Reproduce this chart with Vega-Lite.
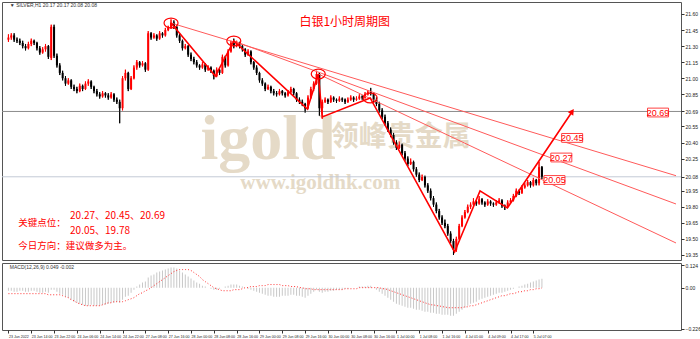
{
"$schema":"https://vega.github.io/schema/vega-lite/v6.json",
"background":"white",
"padding":{"left":1,"top":1,"right":0,"bottom":0},
"spacing":1,
"config":{"view":{"stroke":"#555","strokeWidth":1},"axis":{"labelFont":"Liberation Sans","labelColor":"#222","tickColor":"#333","domain":false,"grid":false,"labelOverlap":false,"labelSeparation":0}},
"datasets":{"bars":[
{"i":0,"o":21.36,"h":21.41,"l":21.34,"c":21.38,"m":-0.017,"s":-0.033},
{"i":1,"o":21.38,"h":21.42,"l":21.36,"c":21.40,"m":-0.017,"s":-0.033},
{"i":2,"o":21.40,"h":21.42,"l":21.34,"c":21.36,"m":-0.022,"s":-0.033},
{"i":3,"o":21.36,"h":21.38,"l":21.33,"c":21.35,"m":-0.022,"s":-0.033},
{"i":4,"o":21.35,"h":21.37,"l":21.31,"c":21.33,"m":-0.017,"s":-0.033},
{"i":5,"o":21.33,"h":21.35,"l":21.28,"c":21.30,"m":-0.017,"s":-0.033},
{"i":6,"o":21.30,"h":21.32,"l":21.26,"c":21.28,"m":-0.022,"s":-0.033},
{"i":7,"o":21.28,"h":21.34,"l":21.27,"c":21.32,"m":-0.022,"s":-0.033},
{"i":8,"o":21.32,"h":21.37,"l":21.30,"c":21.35,"m":-0.017,"s":-0.033},
{"i":9,"o":21.35,"h":21.36,"l":21.31,"c":21.33,"m":-0.017,"s":-0.033},
{"i":10,"o":21.33,"h":21.34,"l":21.26,"c":21.28,"m":-0.022,"s":-0.033},
{"i":11,"o":21.28,"h":21.30,"l":21.22,"c":21.24,"m":-0.028,"s":-0.033},
{"i":12,"o":21.24,"h":21.29,"l":21.23,"c":21.27,"m":-0.028,"s":-0.033},
{"i":13,"o":21.27,"h":21.32,"l":21.25,"c":21.30,"m":-0.022,"s":-0.033},
{"i":14,"o":21.30,"h":21.31,"l":21.18,"c":21.20,"m":-0.028,"s":-0.039},
{"i":15,"o":21.19,"h":21.50,"l":21.17,"c":21.48,"m":-0.011,"s":-0.039},
{"i":16,"o":21.48,"h":21.50,"l":21.19,"c":21.21,"m":-0.011,"s":-0.039},
{"i":17,"o":21.21,"h":21.23,"l":21.10,"c":21.12,"m":-0.022,"s":-0.039},
{"i":18,"o":21.12,"h":21.14,"l":21.03,"c":21.05,"m":-0.033,"s":-0.039},
{"i":19,"o":21.05,"h":21.07,"l":20.98,"c":21.00,"m":-0.039,"s":-0.044},
{"i":20,"o":21.00,"h":21.02,"l":20.93,"c":20.95,"m":-0.050,"s":-0.050},
{"i":21,"o":20.95,"h":21.00,"l":20.94,"c":20.98,"m":-0.055,"s":-0.055},
{"i":22,"o":20.98,"h":20.99,"l":20.90,"c":20.92,"m":-0.066,"s":-0.066},
{"i":23,"o":20.92,"h":20.94,"l":20.88,"c":20.90,"m":-0.077,"s":-0.072},
{"i":24,"o":20.90,"h":20.92,"l":20.86,"c":20.88,"m":-0.083,"s":-0.083},
{"i":25,"o":20.88,"h":20.95,"l":20.87,"c":20.93,"m":-0.088,"s":-0.088},
{"i":26,"o":20.93,"h":20.94,"l":20.88,"c":20.90,"m":-0.094,"s":-0.094},
{"i":27,"o":20.90,"h":20.97,"l":20.89,"c":20.95,"m":-0.099,"s":-0.099},
{"i":28,"o":20.95,"h":20.99,"l":20.93,"c":20.97,"m":-0.099,"s":-0.099},
{"i":29,"o":20.97,"h":20.98,"l":20.90,"c":20.92,"m":-0.094,"s":-0.099},
{"i":30,"o":20.92,"h":20.93,"l":20.86,"c":20.88,"m":-0.099,"s":-0.099},
{"i":31,"o":20.88,"h":20.90,"l":20.83,"c":20.85,"m":-0.099,"s":-0.099},
{"i":32,"o":20.85,"h":20.87,"l":20.81,"c":20.83,"m":-0.099,"s":-0.099},
{"i":33,"o":20.83,"h":20.88,"l":20.82,"c":20.86,"m":-0.094,"s":-0.094},
{"i":34,"o":20.86,"h":20.87,"l":20.82,"c":20.84,"m":-0.094,"s":-0.088},
{"i":35,"o":20.84,"h":20.86,"l":20.80,"c":20.82,"m":-0.088,"s":-0.083},
{"i":36,"o":20.82,"h":20.87,"l":20.81,"c":20.85,"m":-0.083,"s":-0.083},
{"i":37,"o":20.85,"h":20.86,"l":20.78,"c":20.80,"m":-0.083,"s":-0.077},
{"i":38,"o":20.80,"h":20.82,"l":20.76,"c":20.78,"m":-0.077,"s":-0.077},
{"i":39,"o":20.78,"h":20.80,"l":20.58,"c":20.72,"m":-0.083,"s":-0.077},
{"i":40,"o":20.72,"h":21.02,"l":20.70,"c":21.00,"m":-0.066,"s":-0.077},
{"i":41,"o":21.00,"h":21.08,"l":20.98,"c":21.05,"m":-0.050,"s":-0.072},
{"i":42,"o":21.05,"h":21.06,"l":20.88,"c":20.90,"m":-0.044,"s":-0.066},
{"i":43,"o":20.90,"h":21.02,"l":20.89,"c":21.00,"m":-0.028,"s":-0.061},
{"i":44,"o":21.00,"h":21.12,"l":20.99,"c":21.10,"m":-0.011,"s":-0.055},
{"i":45,"o":21.10,"h":21.17,"l":21.08,"c":21.15,"m":0.006,"s":-0.044},
{"i":46,"o":21.15,"h":21.16,"l":21.10,"c":21.12,"m":0.017,"s":-0.033},
{"i":47,"o":21.12,"h":21.16,"l":21.11,"c":21.14,"m":0.028,"s":-0.028},
{"i":48,"o":21.14,"h":21.15,"l":21.06,"c":21.08,"m":0.033,"s":-0.017},
{"i":49,"o":21.08,"h":21.44,"l":21.07,"c":21.42,"m":0.055,"s":-0.011},
{"i":50,"o":21.42,"h":21.43,"l":21.36,"c":21.38,"m":0.066,"s":0},
{"i":51,"o":21.38,"h":21.42,"l":21.37,"c":21.40,"m":0.072,"s":0.011},
{"i":52,"o":21.40,"h":21.41,"l":21.35,"c":21.37,"m":0.083,"s":0.022},
{"i":53,"o":21.37,"h":21.44,"l":21.36,"c":21.42,"m":0.088,"s":0.033},
{"i":54,"o":21.42,"h":21.43,"l":21.38,"c":21.40,"m":0.094,"s":0.044},
{"i":55,"o":21.40,"h":21.47,"l":21.39,"c":21.45,"m":0.099,"s":0.055},
{"i":56,"o":21.45,"h":21.49,"l":21.44,"c":21.47,"m":0.105,"s":0.066},
{"i":57,"o":21.47,"h":21.55,"l":21.46,"c":21.52,"m":0.110,"s":0.077},
{"i":58,"o":21.52,"h":21.54,"l":21.46,"c":21.48,"m":0.110,"s":0.088},
{"i":59,"o":21.48,"h":21.49,"l":21.38,"c":21.40,"m":0.105,"s":0.094},
{"i":60,"o":21.40,"h":21.42,"l":21.33,"c":21.35,"m":0.094,"s":0.099},
{"i":61,"o":21.35,"h":21.36,"l":21.26,"c":21.28,"m":0.083,"s":0.099},
{"i":62,"o":21.28,"h":21.32,"l":21.27,"c":21.30,"m":0.072,"s":0.099},
{"i":63,"o":21.30,"h":21.31,"l":21.20,"c":21.22,"m":0.061,"s":0.099},
{"i":64,"o":21.22,"h":21.24,"l":21.16,"c":21.18,"m":0.050,"s":0.094},
{"i":65,"o":21.18,"h":21.20,"l":21.13,"c":21.15,"m":0.039,"s":0.083},
{"i":66,"o":21.15,"h":21.17,"l":21.10,"c":21.12,"m":0.028,"s":0.072},
{"i":67,"o":21.12,"h":21.13,"l":21.08,"c":21.10,"m":0.022,"s":0.061},
{"i":68,"o":21.10,"h":21.15,"l":21.09,"c":21.13,"m":0.011,"s":0.044},
{"i":69,"o":21.13,"h":21.14,"l":21.06,"c":21.08,"m":0.006,"s":0.033},
{"i":70,"o":21.08,"h":21.12,"l":21.07,"c":21.10,"m":0,"s":0.022},
{"i":71,"o":21.10,"h":21.11,"l":21.05,"c":21.07,"m":-0.006,"s":0.011},
{"i":72,"o":21.07,"h":21.08,"l":20.99,"c":21.02,"m":-0.011,"s":0},
{"i":73,"o":21.02,"h":21.10,"l":21.01,"c":21.08,"m":-0.011,"s":-0.006},
{"i":74,"o":21.08,"h":21.09,"l":21.03,"c":21.05,"m":-0.006,"s":-0.011},
{"i":75,"o":21.05,"h":21.22,"l":21.04,"c":21.20,"m":0,"s":-0.017},
{"i":76,"o":21.20,"h":21.21,"l":21.10,"c":21.12,"m":0.006,"s":-0.017},
{"i":77,"o":21.12,"h":21.27,"l":21.11,"c":21.25,"m":0.011,"s":-0.017},
{"i":78,"o":21.25,"h":21.35,"l":21.24,"c":21.33,"m":0.017,"s":-0.017},
{"i":79,"o":21.33,"h":21.37,"l":21.28,"c":21.30,"m":0.017,"s":-0.011},
{"i":80,"o":21.30,"h":21.35,"l":21.29,"c":21.33,"m":0.017,"s":-0.011},
{"i":81,"o":21.33,"h":21.34,"l":21.28,"c":21.30,"m":0.011,"s":-0.011},
{"i":82,"o":21.30,"h":21.31,"l":21.25,"c":21.27,"m":0.006,"s":-0.006},
{"i":83,"o":21.27,"h":21.28,"l":21.20,"c":21.22,"m":0,"s":0},
{"i":84,"o":21.22,"h":21.27,"l":21.21,"c":21.25,"m":-0.006,"s":0},
{"i":85,"o":21.25,"h":21.26,"l":21.13,"c":21.15,"m":-0.011,"s":0.006},
{"i":86,"o":21.15,"h":21.16,"l":21.08,"c":21.10,"m":-0.017,"s":0.006},
{"i":87,"o":21.10,"h":21.12,"l":21.03,"c":21.05,"m":-0.022,"s":0.006},
{"i":88,"o":21.05,"h":21.06,"l":20.96,"c":20.98,"m":-0.028,"s":0.011},
{"i":89,"o":20.98,"h":21.00,"l":20.93,"c":20.95,"m":-0.033,"s":0.011},
{"i":90,"o":20.95,"h":20.96,"l":20.88,"c":20.90,"m":-0.039,"s":0.011},
{"i":91,"o":20.90,"h":20.94,"l":20.89,"c":20.92,"m":-0.044,"s":0.017},
{"i":92,"o":20.92,"h":20.93,"l":20.86,"c":20.88,"m":-0.044,"s":0.017},
{"i":93,"o":20.88,"h":20.90,"l":20.84,"c":20.86,"m":-0.050,"s":0.017},
{"i":94,"o":20.86,"h":20.88,"l":20.83,"c":20.85,"m":-0.050,"s":0.017},
{"i":95,"o":20.85,"h":20.90,"l":20.84,"c":20.88,"m":-0.050,"s":0.017},
{"i":96,"o":20.88,"h":20.89,"l":20.84,"c":20.86,"m":-0.044,"s":0.011},
{"i":97,"o":20.86,"h":20.87,"l":20.82,"c":20.84,"m":-0.044,"s":0.011},
{"i":98,"o":20.84,"h":20.89,"l":20.83,"c":20.87,"m":-0.044,"s":0.011},
{"i":99,"o":20.87,"h":20.92,"l":20.86,"c":20.90,"m":-0.039,"s":0.006},
{"i":100,"o":20.90,"h":20.91,"l":20.84,"c":20.86,"m":-0.039,"s":0.006},
{"i":101,"o":20.86,"h":20.87,"l":20.78,"c":20.80,"m":-0.044,"s":0.006},
{"i":102,"o":20.80,"h":20.82,"l":20.76,"c":20.78,"m":-0.044,"s":0},
{"i":103,"o":20.78,"h":20.80,"l":20.74,"c":20.76,"m":-0.050,"s":0},
{"i":104,"o":20.76,"h":20.77,"l":20.68,"c":20.72,"m":-0.055,"s":-0.006},
{"i":105,"o":20.72,"h":20.84,"l":20.71,"c":20.82,"m":-0.044,"s":-0.006},
{"i":106,"o":20.82,"h":20.92,"l":20.81,"c":20.90,"m":-0.033,"s":-0.006},
{"i":107,"o":20.90,"h":20.97,"l":20.88,"c":20.95,"m":-0.022,"s":-0.011},
{"i":108,"o":20.95,"h":21.07,"l":20.94,"c":21.04,"m":-0.011,"s":-0.011},
{"i":109,"o":21.04,"h":21.05,"l":20.65,"c":20.72,"m":-0.022,"s":-0.011},
{"i":110,"o":20.72,"h":20.80,"l":20.62,"c":20.78,"m":-0.028,"s":-0.011},
{"i":111,"o":20.78,"h":20.82,"l":20.77,"c":20.80,"m":-0.022,"s":-0.011},
{"i":112,"o":20.80,"h":20.81,"l":20.76,"c":20.78,"m":-0.022,"s":-0.011},
{"i":113,"o":20.78,"h":20.84,"l":20.77,"c":20.82,"m":-0.017,"s":-0.011},
{"i":114,"o":20.82,"h":20.83,"l":20.78,"c":20.80,"m":-0.017,"s":-0.011},
{"i":115,"o":20.80,"h":20.81,"l":20.77,"c":20.79,"m":-0.011,"s":-0.011},
{"i":116,"o":20.79,"h":20.83,"l":20.78,"c":20.81,"m":-0.011,"s":-0.011},
{"i":117,"o":20.81,"h":20.82,"l":20.78,"c":20.80,"m":-0.011,"s":-0.011},
{"i":118,"o":20.80,"h":20.81,"l":20.76,"c":20.78,"m":-0.006,"s":-0.006},
{"i":119,"o":20.78,"h":20.82,"l":20.77,"c":20.80,"m":-0.006,"s":-0.006},
{"i":120,"o":20.80,"h":20.84,"l":20.79,"c":20.82,"m":0,"s":-0.006},
{"i":121,"o":20.82,"h":20.83,"l":20.78,"c":20.80,"m":0,"s":-0.006},
{"i":122,"o":20.80,"h":20.83,"l":20.79,"c":20.81,"m":0,"s":-0.006},
{"i":123,"o":20.81,"h":20.85,"l":20.80,"c":20.83,"m":0.006,"s":0},
{"i":124,"o":20.83,"h":20.84,"l":20.80,"c":20.82,"m":0.006,"s":0},
{"i":125,"o":20.82,"h":20.87,"l":20.81,"c":20.85,"m":0.006,"s":0},
{"i":126,"o":20.85,"h":20.89,"l":20.84,"c":20.87,"m":0.011,"s":0},
{"i":127,"o":20.87,"h":20.91,"l":20.84,"c":20.86,"m":0.011,"s":0},
{"i":128,"o":20.86,"h":20.87,"l":20.78,"c":20.80,"m":0,"s":0},
{"i":129,"o":20.80,"h":20.82,"l":20.74,"c":20.76,"m":-0.011,"s":0},
{"i":130,"o":20.76,"h":20.78,"l":20.68,"c":20.70,"m":-0.022,"s":0},
{"i":131,"o":20.70,"h":20.72,"l":20.62,"c":20.64,"m":-0.033,"s":-0.006},
{"i":132,"o":20.64,"h":20.66,"l":20.56,"c":20.58,"m":-0.044,"s":-0.006},
{"i":133,"o":20.58,"h":20.60,"l":20.50,"c":20.52,"m":-0.055,"s":-0.011},
{"i":134,"o":20.52,"h":20.54,"l":20.45,"c":20.47,"m":-0.066,"s":-0.017},
{"i":135,"o":20.47,"h":20.49,"l":20.38,"c":20.40,"m":-0.077,"s":-0.022},
{"i":136,"o":20.40,"h":20.42,"l":20.33,"c":20.35,"m":-0.088,"s":-0.028},
{"i":137,"o":20.35,"h":20.41,"l":20.34,"c":20.38,"m":-0.094,"s":-0.033},
{"i":138,"o":20.38,"h":20.39,"l":20.28,"c":20.30,"m":-0.099,"s":-0.039},
{"i":139,"o":20.30,"h":20.32,"l":20.23,"c":20.25,"m":-0.105,"s":-0.044},
{"i":140,"o":20.25,"h":20.27,"l":20.18,"c":20.20,"m":-0.110,"s":-0.050},
{"i":141,"o":20.20,"h":20.25,"l":20.19,"c":20.22,"m":-0.110,"s":-0.055},
{"i":142,"o":20.22,"h":20.23,"l":20.13,"c":20.15,"m":-0.116,"s":-0.061},
{"i":143,"o":20.15,"h":20.17,"l":20.08,"c":20.10,"m":-0.121,"s":-0.066},
{"i":144,"o":20.10,"h":20.12,"l":20.03,"c":20.05,"m":-0.121,"s":-0.072},
{"i":145,"o":20.05,"h":20.10,"l":20.04,"c":20.08,"m":-0.127,"s":-0.077},
{"i":146,"o":20.08,"h":20.09,"l":19.98,"c":20.00,"m":-0.132,"s":-0.083},
{"i":147,"o":20.00,"h":20.02,"l":19.93,"c":19.95,"m":-0.132,"s":-0.088},
{"i":148,"o":19.95,"h":19.97,"l":19.86,"c":19.88,"m":-0.138,"s":-0.094},
{"i":149,"o":19.88,"h":19.90,"l":19.80,"c":19.82,"m":-0.138,"s":-0.094},
{"i":150,"o":19.82,"h":19.84,"l":19.74,"c":19.76,"m":-0.143,"s":-0.099},
{"i":151,"o":19.76,"h":19.78,"l":19.68,"c":19.70,"m":-0.143,"s":-0.099},
{"i":152,"o":19.70,"h":19.72,"l":19.63,"c":19.65,"m":-0.149,"s":-0.105},
{"i":153,"o":19.65,"h":19.68,"l":19.60,"c":19.62,"m":-0.149,"s":-0.105},
{"i":154,"o":19.62,"h":19.64,"l":19.53,"c":19.55,"m":-0.149,"s":-0.110},
{"i":155,"o":19.55,"h":19.57,"l":19.46,"c":19.48,"m":-0.154,"s":-0.110},
{"i":156,"o":19.48,"h":19.50,"l":19.35,"c":19.40,"m":-0.154,"s":-0.110},
{"i":157,"o":19.40,"h":19.52,"l":19.38,"c":19.50,"m":-0.143,"s":-0.110},
{"i":158,"o":19.50,"h":19.64,"l":19.49,"c":19.62,"m":-0.132,"s":-0.110},
{"i":159,"o":19.62,"h":19.72,"l":19.61,"c":19.70,"m":-0.121,"s":-0.110},
{"i":160,"o":19.70,"h":19.77,"l":19.69,"c":19.75,"m":-0.110,"s":-0.105},
{"i":161,"o":19.75,"h":19.82,"l":19.74,"c":19.80,"m":-0.099,"s":-0.105},
{"i":162,"o":19.80,"h":19.84,"l":19.78,"c":19.82,"m":-0.088,"s":-0.099},
{"i":163,"o":19.82,"h":19.88,"l":19.81,"c":19.85,"m":-0.083,"s":-0.099},
{"i":164,"o":19.85,"h":19.86,"l":19.81,"c":19.83,"m":-0.077,"s":-0.094},
{"i":165,"o":19.83,"h":19.90,"l":19.82,"c":19.87,"m":-0.066,"s":-0.088},
{"i":166,"o":19.87,"h":19.88,"l":19.82,"c":19.84,"m":-0.061,"s":-0.083},
{"i":167,"o":19.84,"h":19.85,"l":19.80,"c":19.82,"m":-0.055,"s":-0.077},
{"i":168,"o":19.82,"h":19.87,"l":19.81,"c":19.85,"m":-0.050,"s":-0.072},
{"i":169,"o":19.85,"h":19.86,"l":19.81,"c":19.83,"m":-0.044,"s":-0.066},
{"i":170,"o":19.83,"h":19.84,"l":19.80,"c":19.82,"m":-0.039,"s":-0.061},
{"i":171,"o":19.82,"h":19.86,"l":19.81,"c":19.84,"m":-0.033,"s":-0.055},
{"i":172,"o":19.84,"h":19.88,"l":19.83,"c":19.86,"m":-0.028,"s":-0.050},
{"i":173,"o":19.86,"h":19.87,"l":19.79,"c":19.81,"m":-0.028,"s":-0.044},
{"i":174,"o":19.81,"h":19.82,"l":19.77,"c":19.80,"m":-0.022,"s":-0.044},
{"i":175,"o":19.80,"h":19.86,"l":19.79,"c":19.84,"m":-0.017,"s":-0.039},
{"i":176,"o":19.84,"h":19.88,"l":19.83,"c":19.86,"m":-0.011,"s":-0.033},
{"i":177,"o":19.86,"h":19.92,"l":19.85,"c":19.90,"m":-0.006,"s":-0.033},
{"i":178,"o":19.90,"h":19.97,"l":19.89,"c":19.95,"m":0,"s":-0.028},
{"i":179,"o":19.95,"h":19.96,"l":19.91,"c":19.93,"m":0.006,"s":-0.022},
{"i":180,"o":19.93,"h":20.00,"l":19.92,"c":19.98,"m":0.011,"s":-0.022},
{"i":181,"o":19.98,"h":20.02,"l":19.97,"c":20.00,"m":0.017,"s":-0.017},
{"i":182,"o":20.00,"h":20.05,"l":19.99,"c":20.03,"m":0.022,"s":-0.017},
{"i":183,"o":20.03,"h":20.04,"l":19.98,"c":20.00,"m":0.028,"s":-0.011},
{"i":184,"o":20.00,"h":20.07,"l":19.99,"c":20.05,"m":0.033,"s":-0.011},
{"i":185,"o":20.05,"h":20.06,"l":20.00,"c":20.02,"m":0.039,"s":-0.006},
{"i":186,"o":20.02,"h":20.22,"l":20.00,"c":20.17,"m":0.044,"s":-0.006},
{"i":187,"o":20.17,"h":20.18,"l":20.06,"c":20.08,"m":0.049,"s":-0.002}
]},
"vconcat":[
{
"width":679,"height":258,
"data":{"name":"bars"},
"layer":[
{"mark":{"type":"rule","strokeWidth":1},
 "encoding":{
  "x":{"field":"i","type":"quantitative","title":null,"scale":{"domain":[-0.5,234],"nice":false,"zero":false},"axis":{"orient":"bottom","labels":false,"ticks":false,"title":null}},
  "y":{"field":"l","type":"quantitative","title":null,"scale":{"domain":[19.303,21.712],"nice":false,"zero":false},
   "axis":{"orient":"right","title":null,"values":[19.35,19.5,19.65,19.8,19.95,20.08,20.25,20.4,20.55,20.69,20.85,21.0,21.15,21.3,21.45,21.6],"tickCount":100,"format":".2f","labelFontSize":5,"tickSize":3,"labelPadding":1,"labelBaseline":"middle","labelOverlap":false}},
  "y2":{"field":"h"},
  "color":{"condition":{"test":"datum.c >= datum.o","value":"#ff0000"},"value":"#000000"}}},
{"data":{"values":[{}]},"mark":{"type":"text","text":"igold","font":"Liberation Serif","fontWeight":"bold","fontSize":64,"color":"#e5dac7","align":"center","baseline":"alphabetic"},
 "encoding":{"x":{"datum":91,"type":"quantitative"},"y":{"datum":20.25,"type":"quantitative"}}},
{"data":{"values":[{}]},"mark":{"type":"text","text":"领峰贵金属","font":"Noto Sans CJK SC","fontWeight":"bold","fontSize":28,"color":"#e5dac7","align":"center","baseline":"middle"},
 "encoding":{"x":{"datum":137.5,"type":"quantitative"},"y":{"datum":20.44,"type":"quantitative"}}},
{"data":{"values":[{}]},"mark":{"type":"text","text":"www.igoldhk.com","font":"Liberation Serif","fontWeight":"bold","fontSize":21,"color":"#e5dac7","align":"center","baseline":"middle"},
 "encoding":{"x":{"datum":109.3,"type":"quantitative"},"y":{"datum":20.02,"type":"quantitative"}}},
{"data":{"values":[{}]},"mark":{"type":"rule","color":"#8c8c8c","strokeWidth":1},"encoding":{"y":{"datum":20.69,"type":"quantitative"}}},
{"data":{"values":[{}]},"mark":{"type":"rule","color":"#c3cbd6","strokeWidth":1},"encoding":{"y":{"datum":20.08,"type":"quantitative"}}},
{"mark":{"type":"rule","strokeWidth":1},
 "encoding":{
  "x":{"field":"i","type":"quantitative","title":null},
  "y":{"field":"l","type":"quantitative","title":null},
  "y2":{"field":"h"},
  "color":{"condition":{"test":"datum.c >= datum.o","value":"#ff0000"},"value":"#000000"}}},
{"mark":{"type":"bar","size":2},
 "encoding":{
  "x":{"field":"i","type":"quantitative","title":null},
  "y":{"field":"o","type":"quantitative","title":null},
  "y2":{"field":"c"},
  "color":{"condition":{"test":"datum.c >= datum.o","value":"#ff0000"},"value":"#000000"}}},
{"data":{"values":[{"g":1,"i":57,"v":21.516},{"g":1,"i":234,"v":20.09},{"g":2,"i":79,"v":21.348},{"g":2,"i":234,"v":19.826},{"g":3,"i":108.6,"v":21.04},{"g":3,"i":234,"v":19.462}]},
 "mark":{"type":"line","color":"#ff5a5a","strokeWidth":1},
 "encoding":{"x":{"field":"i","type":"quantitative","title":null},"y":{"field":"v","type":"quantitative","title":null},"detail":{"field":"g"}}},
{"data":{"values":[{"k":0,"i":57,"v":21.516},{"k":1,"i":72.5,"v":21.021},{"k":2,"i":79,"v":21.348},{"k":3,"i":104.8,"v":20.713},{"k":4,"i":108.6,"v":21.04},{"k":5,"i":110,"v":20.639},{"k":6,"i":126.8,"v":20.816},{"k":7,"i":156.4,"v":19.378},{"k":8,"i":165.3,"v":19.948},{"k":9,"i":174.9,"v":19.789},{"k":10,"i":197.4,"v":20.68}]},
 "mark":{"type":"line","color":"#ff0000","strokeWidth":1.6},
 "encoding":{"x":{"field":"i","type":"quantitative","title":null},"y":{"field":"v","type":"quantitative","title":null},"order":{"field":"k"}}},
{"data":{"values":[{}]},"mark":{"type":"point","shape":"triangle-up","filled":true,"color":"#ff0000","size":45,"angle":34.5,"opacity":1},
 "encoding":{"x":{"datum":197.6,"type":"quantitative"},"y":{"datum":20.69,"type":"quantitative"}}},
{"data":{"values":[{"i":57,"v":21.516},{"i":79,"v":21.348},{"i":108.6,"v":21.04},{"i":126.8,"v":20.816}]},
 "mark":{"type":"point","shape":"M-1,0A1,0.7,0,1,0,1,0A1,0.7,0,1,0,-1,0Z","filled":false,"color":"#ff0000","strokeWidth":1.2,"size":196,"opacity":1},
 "encoding":{"x":{"field":"i","type":"quantitative","title":null},"y":{"field":"v","type":"quantitative","title":null}}},
{"data":{"values":[{"t":"20.69","i":227.7,"v":20.68},{"t":"20.45","i":197.6,"v":20.443},{"t":"20.27","i":193.8,"v":20.26},{"t":"20.05","i":191.4,"v":20.05}]},
 "mark":{"type":"point","shape":"M-1,-0.42L1,-0.42L1,0.42L-1,0.42Z","filled":true,"fill":"white","stroke":"#ff4040","strokeWidth":1,"size":441,"opacity":1},
 "encoding":{"x":{"field":"i","type":"quantitative","title":null},"y":{"field":"v","type":"quantitative","title":null}}},
{"data":{"values":[{"t":"20.69","i":227.7,"v":20.68},{"t":"20.45","i":197.6,"v":20.443},{"t":"20.27","i":193.8,"v":20.26},{"t":"20.05","i":191.4,"v":20.05}]},
 "mark":{"type":"text","color":"#ff0000","fontSize":9,"font":"Liberation Sans","align":"center","baseline":"middle"},
 "encoding":{"x":{"field":"i","type":"quantitative","title":null},"y":{"field":"v","type":"quantitative","title":null},"text":{"field":"t"}}},
{"data":{"values":[{}]},"mark":{"type":"text","text":"白银1小时周期图","font":"Noto Sans CJK SC","fontSize":12,"color":"#ff0000","align":"center","baseline":"middle"},
 "encoding":{"x":{"datum":117.9,"type":"quantitative"},"y":{"datum":21.526,"type":"quantitative"}}},
{"data":{"values":[{}]},"mark":{"type":"text","text":"关键点位：","font":"Noto Sans CJK SC","fontSize":9.5,"color":"#ff0000","align":"left","baseline":"middle"},
 "encoding":{"x":{"datum":3.4,"type":"quantitative"},"y":{"datum":19.649,"type":"quantitative"}}},
{"data":{"values":[{}]},"mark":{"type":"text","text":"20.27、20.45、20.69","font":"Noto Sans CJK SC","fontSize":10,"color":"#ff0000","align":"left","baseline":"middle"},
 "encoding":{"x":{"datum":21.6,"type":"quantitative"},"y":{"datum":19.714,"type":"quantitative"}}},
{"data":{"values":[{}]},"mark":{"type":"text","text":"20.05、19.78","font":"Noto Sans CJK SC","fontSize":10,"color":"#ff0000","align":"left","baseline":"middle"},
 "encoding":{"x":{"datum":21.6,"type":"quantitative"},"y":{"datum":19.574,"type":"quantitative"}}},
{"data":{"values":[{}]},"mark":{"type":"text","text":"今日方向：建议做多为主。","font":"Noto Sans CJK SC","fontSize":9.5,"color":"#ff0000","align":"left","baseline":"middle"},
 "encoding":{"x":{"datum":3.4,"type":"quantitative"},"y":{"datum":19.434,"type":"quantitative"}}},
{"data":{"values":[{}]},"mark":{"type":"text","text":"▼ SILVER,H1  20.17 20.17 20.08 20.08","font":"Liberation Sans","fontSize":5,"color":"#333","align":"left","baseline":"middle"},
 "encoding":{"x":{"datum":0.5,"type":"quantitative"},"y":{"datum":21.68,"type":"quantitative"}}}
]
},
{
"width":679,"height":67,
"data":{"name":"bars"},
"layer":[
{"mark":{"type":"bar","size":1,"color":"#c8c8c8"},
 "encoding":{
  "x":{"field":"i","type":"quantitative","title":null,"scale":{"domain":[-0.5,234],"nice":false,"zero":false},
   "axis":{"title":null,"orient":"bottom","values":[0,8,16,24,32,40,48,56,64,72,80,88,96,104,112,120,128,136,144,152,160,168,176,184],"tickCount":100,
    "labelExpr":"['23 Jun 2022','23 Jun 14:00','23 Jun 22:00','24 Jun 06:00','24 Jun 14:00','24 Jun 22:00','27 Jun 08:00','27 Jun 16:00','28 Jun 00:00','28 Jun 08:00','28 Jun 16:00','29 Jun 00:00','29 Jun 08:00','29 Jun 16:00','30 Jun 00:00','30 Jun 08:00','30 Jun 16:00','1 Jul 00:00','1 Jul 08:00','1 Jul 16:00','4 Jul 01:00','4 Jul 09:00','4 Jul 17:00','5 Jul 07:00'][round(datum.value/8)]",
    "labelAlign":"left","labelFontSize":3.6,"tickSize":3,"labelPadding":1,"labelOverlap":false,"labelFlush":false}},
  "y":{"field":"m","type":"quantitative","title":null,"scale":{"domain":[-0.232,0.135],"nice":false,"zero":false},
   "axis":{"orient":"right","title":null,"values":[0.124,0,-0.226],"tickCount":100,"labelExpr":"datum.value == 0 ? '0.00' : format(datum.value, '.3f')","labelFontSize":5,"tickSize":3,"labelPadding":1,"labelOverlap":false}},
  "y2":{"datum":0}}},
{"mark":{"type":"line","color":"#ff3030","strokeWidth":1,"strokeDash":[1,2]},
 "encoding":{"x":{"field":"i","type":"quantitative","title":null},"y":{"field":"s","type":"quantitative","title":null}}},
{"data":{"values":[{}]},"mark":{"type":"text","text":"MACD(12,26,9) 0.049 -0.002","font":"Liberation Sans","fontSize":5,"color":"#333","align":"left","baseline":"middle"},
 "encoding":{"x":{"datum":0.5,"type":"quantitative"},"y":{"datum":0.115,"type":"quantitative"}}}
]
}
]
}
